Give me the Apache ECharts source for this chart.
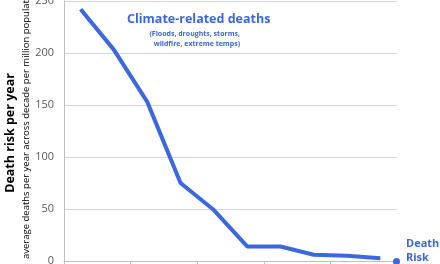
<!DOCTYPE html>
<html><head><meta charset="utf-8">
<script src="https://cdn.jsdelivr.net/npm/echarts@6/dist/echarts.min.js"></script>
<style>html,body{margin:0;padding:0;background:#fff}#c{width:440px;height:264px}</style>
</head><body><div id="c"></div>
<script>
var decades = ['1920s','1930s','1940s','1950s','1960s','1970s','1980s','1990s','2000s','2010s'];
var deathRisk = [242, 203, 153, 75, 49, 14, 14, 6, 5, 2.6];
var yTicks = [0, 50, 100, 150, 200, 250];
var seriesName = 'Death Risk';

var blue = '#3B67E0';
var chart = echarts.init(document.getElementById('c'), null, {renderer:'canvas'});
chart.setOption({
  animation: false,
  backgroundColor: '#fff',
  grid: {left: 64, right: 43, top: 1, bottom: 3, containLabel: false, outerBoundsMode: 'none'},
  xAxis: {
    type: 'category', data: decades, boundaryGap: true,
    axisLine: {lineStyle: {color: '#bfbfbf'}},
    axisTick: {show: true, interval: 1, length: 4, lineStyle: {color: '#bfbfbf'}},
    axisLabel: {show: false},
    splitLine: {show: false}
  },
  yAxis: {
    type: 'value', min: yTicks[0], max: yTicks[yTicks.length-1], interval: 50,
    axisLine: {show: true, lineStyle: {color: '#bfbfbf'}},
    axisTick: {show: false},
    axisLabel: {color: '#595959', fontSize: 11, margin: 10, fontFamily: 'Open Sans', hideOverlap: false},
    splitLine: {lineStyle: {color: '#d4d4d4', width: 1}}
  },
  legend: {
    show: true, data: [seriesName], left: 388, top: 253, icon: 'circle',
    itemWidth: 7, itemHeight: 7, formatter: function(){return '';},
    itemStyle: {color: blue}
  },
  series: [{
    name: seriesName, type: 'line', data: deathRisk, symbol: 'none',
    lineStyle: {color: blue, width: 4}, itemStyle: {color: blue}
  }],
  graphic: [
    {type: 'text', left: 127, top: 13, style: {text: 'Climate-related deaths', fill: blue, font: 'bold 12.5px "Open Sans"'}},
    {type: 'text', x: 240, y: 29, style: {text: '(Floods, droughts, storms,\nwildfire, extreme temps)', fill: blue, font: 'bold 7px "Open Sans"', align: 'right', lineHeight: 10}},
    {type: 'text', x: 406, y: 237, style: {text: 'Death\nRisk', fill: blue, font: 'bold 11px "Open Sans"', lineHeight: 14}},
    {type: 'text', x: 4, y: 133, rotation: Math.PI/2, style: {text: 'Death risk per year', fill: '#000', font: 'bold 12.5px "Open Sans"', align: 'center', verticalAlign: 'top'}},
    {type: 'text', x: 21, y: 259, rotation: Math.PI/2, style: {text: 'average deaths per year across decade per million population', fill: '#000', font: '9.5px "Open Sans"', align: 'left', verticalAlign: 'top'}}
  ]
});
</script></body></html>
